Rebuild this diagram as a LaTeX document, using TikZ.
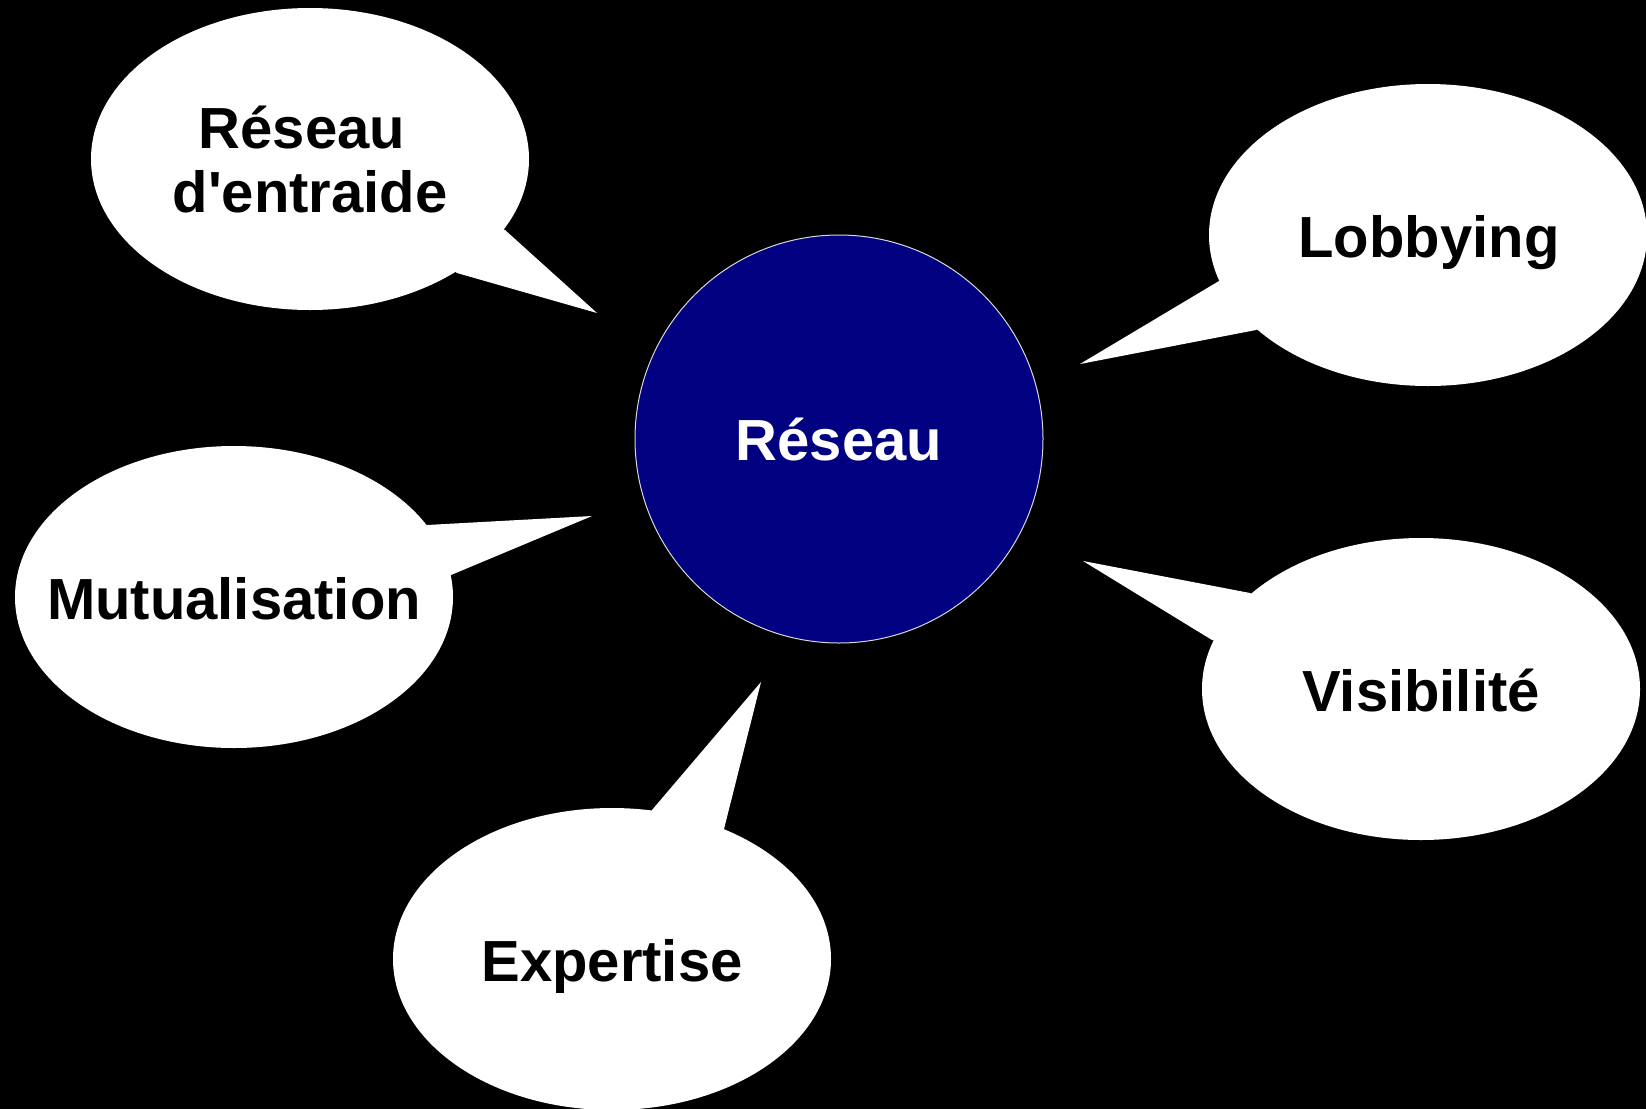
\documentclass[tikz,border=0pt]{standalone}
\usepackage{fontspec}
\setmainfont{Liberation Sans}
\usetikzlibrary{shapes.geometric}
\definecolor{hubnavy}{HTML}{000080}
\definecolor{hubedge}{HTML}{D8D8D8}
\begin{document}
\begin{tikzpicture}[x=1pt,y=-1pt,
  bubble/.style={ellipse,fill=white,draw=none,minimum width=438pt,minimum height=302pt,inner sep=0pt},
  tail/.style={fill=white,draw=none},
  lbl/.style={anchor=base,inner sep=0pt,font=\fontsize{58}{64}\selectfont\bfseries,text=black},
]
\useasboundingbox (0,0) rectangle (1646,1109);
\fill[black] (0,0) rectangle (1646,1109);

% bubbles
\node[bubble] (entraide) at (310,159) {};
\node[bubble] (lobby) at (1428,235) {};
\node[bubble] (mutual) at (234,597) {};
\node[bubble] (visib) at (1421,689) {};
\node[bubble] (expert) at (612,959) {};

% tails
\coordinate (tEntraide) at (597,313);
\coordinate (tLobby) at (1080,364);
\coordinate (tMutual) at (592,516);
\coordinate (tVisib) at (1083,561);
\coordinate (tExpert) at (761,682);
\fill[tail] (entraide.center) -- (505,230) -- (tEntraide) -- (457,273) -- cycle;
\fill[tail] (lobby.center) -- (1219,281) -- (tLobby) -- (1256,330) -- cycle;
\fill[tail] (mutual.center) -- (427,525) -- (tMutual) -- (451,575) -- cycle;
\fill[tail] (visib.center) -- (1250,593) -- (tVisib) -- (1212,640) -- cycle;
\fill[tail] (expert.center) -- (652,810) -- (tExpert) -- (724,829) -- cycle;

% hub
\node[circle,fill=hubnavy,draw=hubedge,line width=1pt,minimum size=408pt,inner sep=0pt] (hub) at (839,439) {};

% labels
\node[lbl,text=white] (hubT) at (839,460) {Réseau};
\node[lbl] (entraideT1) at (302,148) {Réseau};
\node[lbl] (entraideT2) at (310,212) {d\textquotesingle entraide};
\node[lbl] (lobbyT) at (1429,257) {Lobbying};
\node[lbl] (mutualT) at (234,619) {Mutualisation};
\node[lbl] (visibT) at (1421,711) {Visibilité};
\node[lbl] (expertT) at (612,981) {Expertise};
\end{tikzpicture}
\end{document}
